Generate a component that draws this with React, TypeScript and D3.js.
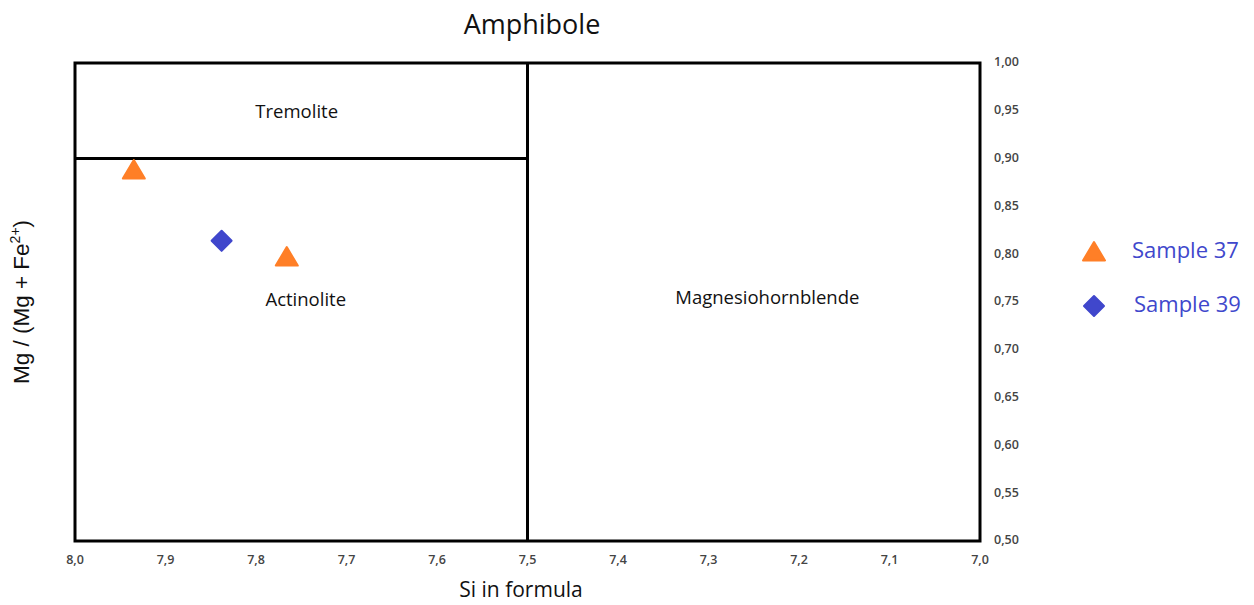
import React from "react";
import * as d3 from "d3";

// diagram values
const xTicks = [8.0, 7.9, 7.8, 7.7, 7.6, 7.5, 7.4, 7.3, 7.2, 7.1, 7.0];
const yTicks = [1.0, 0.95, 0.9, 0.85, 0.8, 0.75, 0.7, 0.65, 0.6, 0.55, 0.5];

const sample37 = [
  { si: 7.935, mg: 0.888 },
  { si: 7.766, mg: 0.797 },
];
const sample39 = [{ si: 7.838, mg: 0.814 }];

// field boundaries [si1, mg1, si2, mg2]
const boundaries = [
  [7.5, 1.0, 7.5, 0.5],
  [8.0, 0.9, 7.5, 0.9],
];

const fields = [
  { name: "Tremolite", si: 7.755, mg: 0.948 },
  { name: "Actinolite", si: 7.745, mg: 0.751 },
  { name: "Magnesiohornblende", si: 7.235, mg: 0.753 },
];

const legendItems = [
  { name: "Sample 37", shape: "triangle", color: "#ff7f27" },
  { name: "Sample 39", shape: "diamond", color: "#4047cc" },
];

const W = 1254;
const H = 605;

const triPath = (s: number) => {
  const r = s / 2;
  return `M0,${-r} L${r * 1.1},${r * 0.85} L${-r * 1.1},${r * 0.85} Z`;
};
const diaPath = (s: number) => {
  const r = s / 2;
  return `M0,${-r} L${r},0 L0,${r} L${-r},0 Z`;
};

export default function App() {
  const x = d3.scaleLinear().domain([8.0, 7.0]).range([75, 980]);
  const y = d3.scaleLinear().domain([0.5, 1.0]).range([541, 63]);
  const fmt = (d: number, n: number) => d.toFixed(n).replace(".", ",");

  return (
    <svg
      width={W}
      height={H}
      style={{ position: "absolute", left: 0, top: 0, background: "#fff" }}
      fontFamily="'Open Sans', sans-serif"
    >
      <text x={532} y={34} fontSize={27} textAnchor="middle" fill="#111">
        Amphibole
      </text>

      {/* plot box */}
      <rect
        x={x(8.0)}
        y={y(1.0)}
        width={x(7.0) - x(8.0)}
        height={y(0.5) - y(1.0)}
        fill="none"
        stroke="#000"
        strokeWidth={3}
      />
      {boundaries.map((b, i) => (
        <line
          key={i}
          x1={x(b[0])}
          y1={y(b[1])}
          x2={x(b[2])}
          y2={y(b[3])}
          stroke="#000"
          strokeWidth={3}
        />
      ))}

      {fields.map((f) => (
        <text
          key={f.name}
          x={x(f.si)}
          y={y(f.mg)}
          fontSize={18.5}
          textAnchor="middle"
          dominantBaseline="middle"
          fill="#111"
        >
          {f.name}
        </text>
      ))}

      {/* x ticks */}
      {xTicks.map((t) => (
        <text
          key={t}
          x={x(t)}
          y={564}
          fontSize={12.5}
          fontWeight={600}
          textAnchor="middle"
          fill="#444"
        >
          {fmt(t, 1)}
        </text>
      ))}
      {/* y ticks */}
      {yTicks.map((t) => (
        <text
          key={t}
          x={994}
          y={y(t)}
          fontSize={12.5}
          fontWeight={600}
          dominantBaseline="middle"
          fill="#444"
        >
          {fmt(t, 2)}
        </text>
      ))}

      <text x={521} y={597} fontSize={21} textAnchor="middle" fill="#111">
        Si in formula
      </text>
      <text
        transform="translate(29,302) rotate(-90)"
        fontSize={22.5}
        textAnchor="middle"
        fontFamily="'Liberation Sans', Arial, sans-serif"
        fill="#111"
      >
        Mg / (Mg + Fe
        <tspan fontSize={14} dy={-9}>
          2+
        </tspan>
        <tspan dy={9}>)</tspan>
      </text>

      {/* points */}
      {sample37.map((p, i) => (
        <path
          key={"a" + i}
          d={triPath(20)}
          transform={`translate(${x(p.si)},${y(p.mg)})`}
          fill="#ff7f27"
          stroke="#ff7f27"
          strokeWidth={2}
          strokeLinejoin="round"
        />
      ))}
      {sample39.map((p, i) => (
        <path
          key={"b" + i}
          d={diaPath(20)}
          transform={`translate(${x(p.si)},${y(p.mg)})`}
          fill="#4047cc"
          stroke="#4047cc"
          strokeWidth={2}
          strokeLinejoin="round"
        />
      ))}

      {/* legend */}
      {legendItems.map((l, i) => (
        <g key={l.name} transform={`translate(1094,${252 + i * 54})`}>
          <path
            d={l.shape === "triangle" ? triPath(20) : diaPath(20)}
            fill={l.color}
            stroke={l.color}
            strokeWidth={2}
            strokeLinejoin="round"
          />
          <text
            x={38 + i * 2}
            y={0}
            fontSize={22}
            dominantBaseline="middle"
            fill="#4047cc"
          >
            {l.name}
          </text>
        </g>
      ))}
    </svg>
  );
}
